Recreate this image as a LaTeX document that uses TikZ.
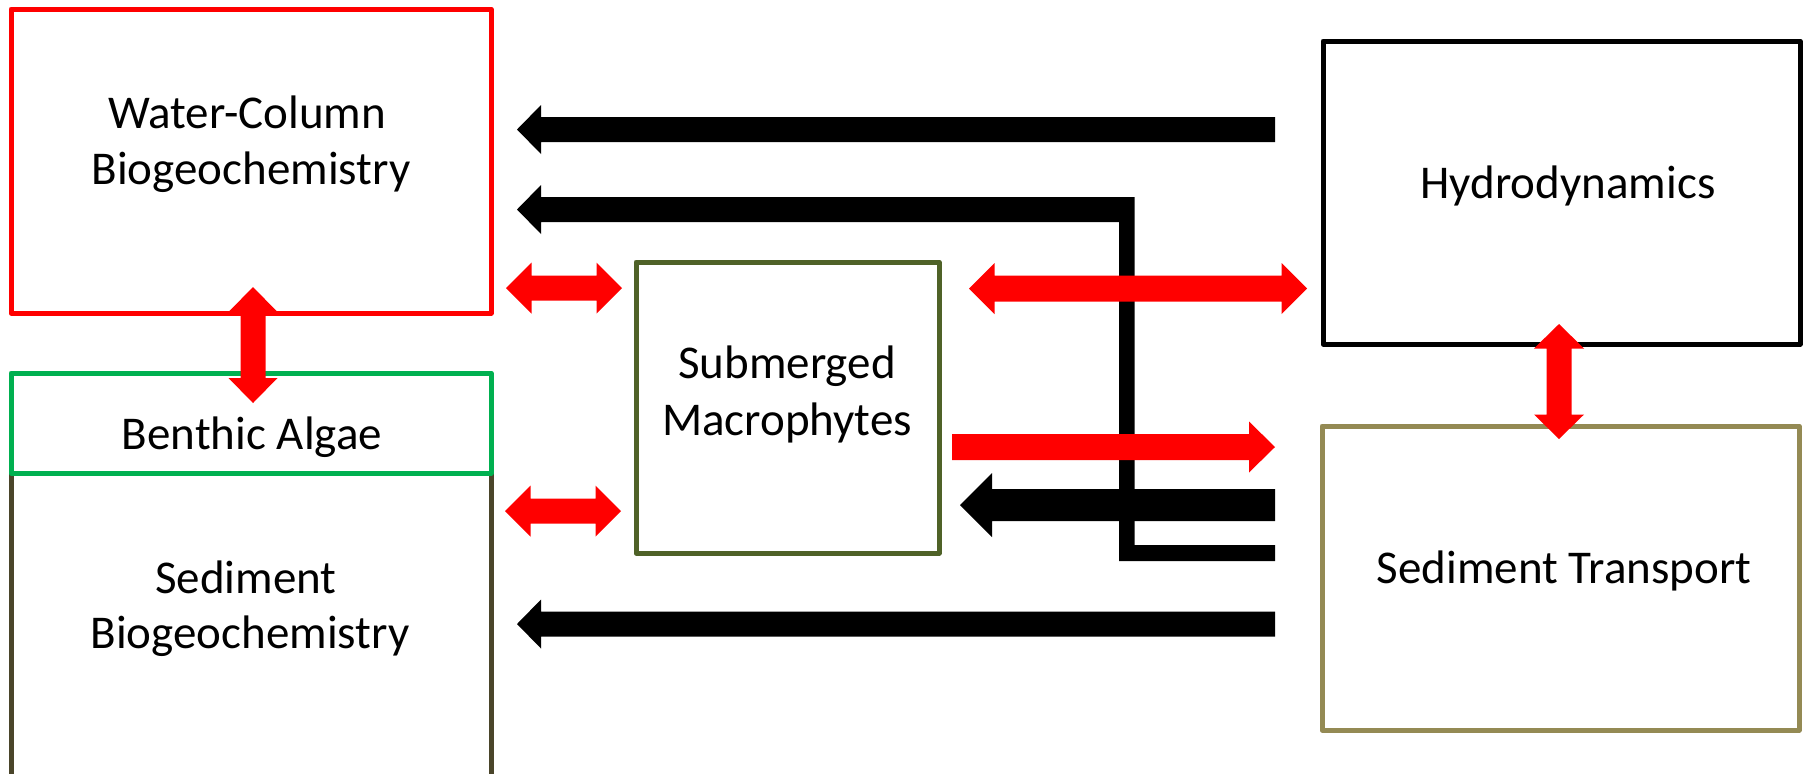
\documentclass[tikz,border=0pt]{standalone}
\usepackage{fontspec}
\setmainfont{Carlito}
\definecolor{wcred}{HTML}{FF0000}
\definecolor{bagreen}{HTML}{00B050}
\definecolor{sedbrown}{HTML}{4A452A}
\definecolor{macolive}{HTML}{4F6228}
\definecolor{sttan}{HTML}{948A54}
% single horizontal block arrow: #1 style, #2 x start, #3 x tip, #4 y centre, #5 half shaft, #6 half head, #7 head length (signed)
\newcommand\singlearr[7]{%
  \fill[#1] (#2,{#4-#5}) -- ({#3+(#7)},{#4-#5}) -- ({#3+(#7)},{#4-#6}) -- (#3,#4)
    -- ({#3+(#7)},{#4+#6}) -- ({#3+(#7)},{#4+#5}) -- (#2,{#4+#5}) -- cycle;}
% double horizontal block arrow: #1 style, #2 left tip, #3 right tip, #4 y, #5 half shaft, #6 half head, #7 head length
\newcommand\doublearrH[7]{%
  \fill[#1] (#2,#4) -- ({#2+#7},{#4-#6}) -- ({#2+#7},{#4-#5}) -- ({#3-#7},{#4-#5})
    -- ({#3-#7},{#4-#6}) -- (#3,#4) -- ({#3-#7},{#4+#6}) -- ({#3-#7},{#4+#5})
    -- ({#2+#7},{#4+#5}) -- ({#2+#7},{#4+#6}) -- cycle;}
% double vertical block arrow: #1 style, #2 x, #3 top tip, #4 bottom tip, #5 half shaft, #6 half head, #7 head length
\newcommand\doublearrV[7]{%
  \fill[#1] (#2,#3) -- ({#2+#6},{#3+#7}) -- ({#2+#5},{#3+#7}) -- ({#2+#5},{#4-#7})
    -- ({#2+#6},{#4-#7}) -- (#2,#4) -- ({#2-#6},{#4-#7}) -- ({#2-#5},{#4-#7})
    -- ({#2-#5},{#3+#7}) -- ({#2-#6},{#3+#7}) -- cycle;}
\begin{document}
\begin{tikzpicture}[x=0.5pt,y=-0.5pt,
  box/.style={draw, line width=2.5pt, line join=round, inner sep=0pt},
  txt/.style={anchor=base, inner sep=0pt, font=\fontsize{23.5pt}{28pt}\selectfont},
  blkfill/.style={fill=black},
  redfill/.style={fill=wcred}]
\clip (0,0) rectangle (1810,773);
% boxes
\node[box, draw=sedbrown, minimum width=240pt, minimum height=213.5pt] (sedbio) at (251,686.5) {};
\node[box, draw=wcred, minimum width=240pt, minimum height=152pt] (wcbio) at (251,161) {};
\node[box, draw=bagreen, minimum width=240pt, minimum height=50pt] (algae) at (251,423) {};
\node[box, draw=macolive, minimum width=151.5pt, minimum height=145.5pt] (macro) at (787.5,407.5) {};
\node[box, draw=black, minimum width=238.5pt, minimum height=151.5pt] (hydro) at (1561.5,192.5) {};
\node[box, draw=sttan, minimum width=238.5pt, minimum height=152pt] (sedtr) at (1560.5,578) {};
% texts
\node[txt] (wct1) at (247,128) {Water-Column};
\node[txt] (wct2) at (251,184) {Biogeochemistry};
\node[txt] (bat) at (252,449) {Benthic Algae};
\node[txt] (sbt1) at (246,593) {Sediment};
\node[txt] (sbt2) at (250,648) {Biogeochemistry};
\node[txt] (smt1) at (787,378) {Submerged};
\node[txt] (smt2) at (787,435) {Macrophytes};
\node[txt] (hyt) at (1568,198) {Hydrodynamics};
\node[txt] (stt) at (1564,583) {Sediment Transport};
% black arrows
\singlearr{blkfill}{1275}{517}{129.5}{12.5}{24.5}{24}
\fill[blkfill] (1134.5,197) -- (1134.5,545) -- (1275,545) -- (1275,561) -- (1119,561)
  -- (1119,222) -- (541,222) -- (541,234) -- (517,209.5) -- (541,185) -- (541,197) -- cycle;
\singlearr{blkfill}{1275}{960}{505}{16}{32}{32}
\singlearr{blkfill}{1275}{517}{624}{12.5}{24.5}{24}
% red arrows
\doublearrH{redfill}{506}{622}{288}{12.5}{25.5}{25.5}
\doublearrH{redfill}{505}{621}{511}{12.5}{25.5}{25.5}
\doublearrH{redfill}{969}{1307}{288.5}{13}{25.5}{25.5}
\singlearr{redfill}{952}{1275}{447}{13}{25.5}{-26}
\doublearrV{redfill}{253}{287}{403}{12.5}{24.5}{25}
\doublearrV{redfill}{1559}{324}{439}{12.5}{25}{24.5}
\end{tikzpicture}
\end{document}
